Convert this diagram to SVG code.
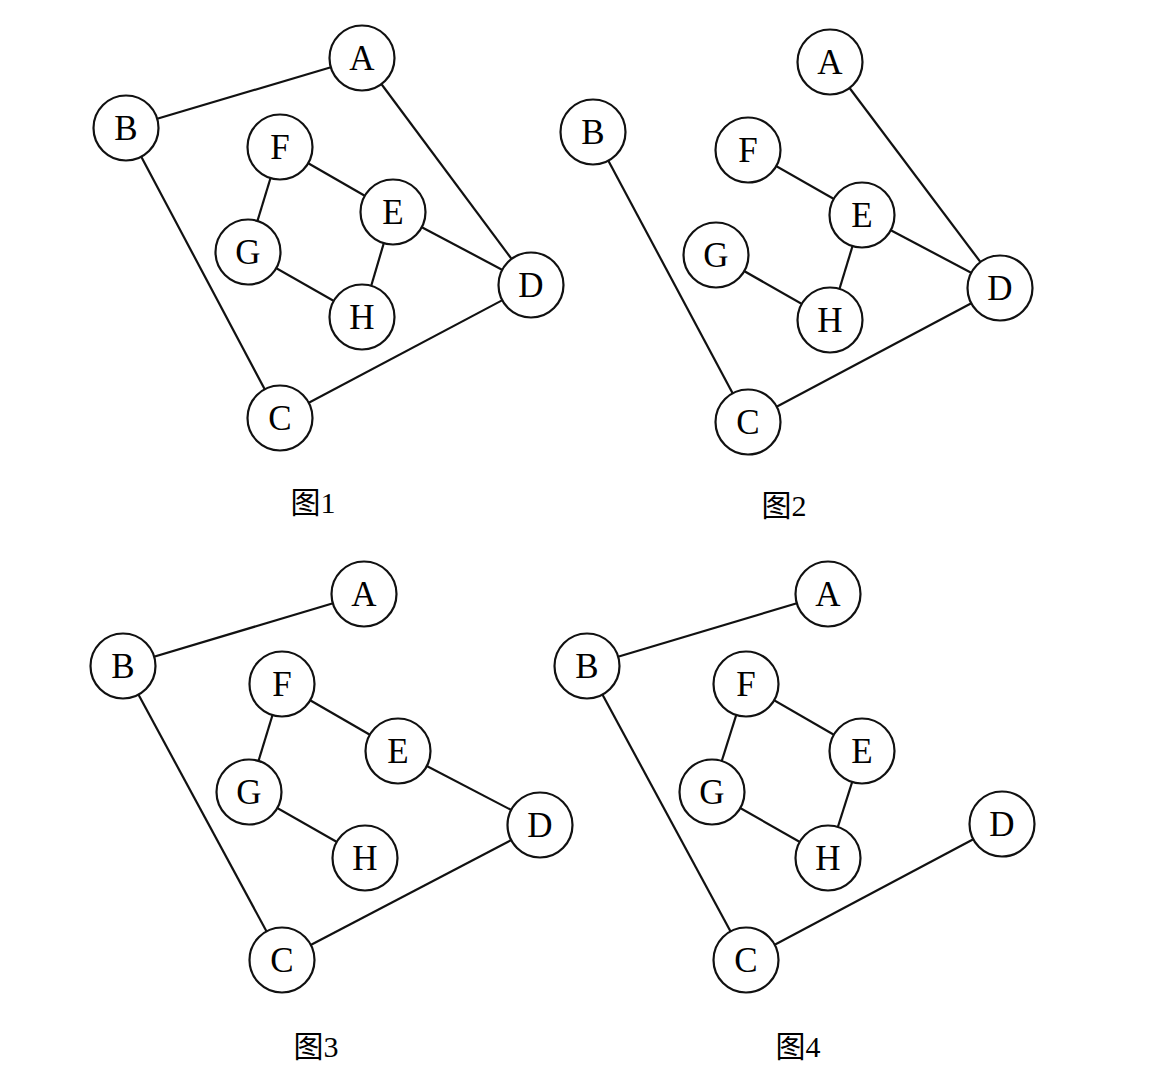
<svg xmlns="http://www.w3.org/2000/svg" width="1170" height="1072" viewBox="0 0 1170 1072">
<style>
.e{stroke:#111;stroke-width:2.2;fill:none}
.n circle{fill:#fff;stroke:#111;stroke-width:2.2}
.n text{font-family:"Liberation Serif","Times New Roman",serif;font-size:35px;fill:#000;text-anchor:middle}
.cap{font-family:"Liberation Serif","Noto Sans CJK SC",serif;font-size:30px;fill:#000;text-anchor:middle}
</style>
<rect width="1170" height="1072" fill="#fff"/>
<g id="connectors">
<!-- fig1 -->
<line class="e" x1="362" y1="58" x2="126" y2="128"/>
<line class="e" x1="362" y1="58" x2="531" y2="285"/>
<line class="e" x1="126" y1="128" x2="280" y2="418"/>
<line class="e" x1="280" y1="418" x2="531" y2="285"/>
<line class="e" x1="280" y1="147" x2="393" y2="212"/>
<line class="e" x1="280" y1="147" x2="248" y2="252"/>
<line class="e" x1="393" y1="212" x2="531" y2="285"/>
<line class="e" x1="393" y1="212" x2="362" y2="317"/>
<line class="e" x1="248" y1="252" x2="362" y2="317"/>
<!-- fig2 -->
<line class="e" x1="830" y1="62" x2="1000" y2="288"/>
<line class="e" x1="593" y1="132" x2="748" y2="422"/>
<line class="e" x1="748" y1="422" x2="1000" y2="288"/>
<line class="e" x1="748" y1="150" x2="862" y2="215"/>
<line class="e" x1="862" y1="215" x2="1000" y2="288"/>
<line class="e" x1="862" y1="215" x2="830" y2="320"/>
<line class="e" x1="716" y1="255" x2="830" y2="320"/>
<!-- fig3 -->
<line class="e" x1="364" y1="594" x2="123" y2="666"/>
<line class="e" x1="123" y1="666" x2="282" y2="960"/>
<line class="e" x1="282" y1="960" x2="540" y2="825"/>
<line class="e" x1="282" y1="684" x2="398" y2="751"/>
<line class="e" x1="282" y1="684" x2="249" y2="792"/>
<line class="e" x1="398" y1="751" x2="540" y2="825"/>
<line class="e" x1="249" y1="792" x2="365" y2="858"/>
<!-- fig4 -->
<line class="e" x1="828" y1="594" x2="587" y2="666"/>
<line class="e" x1="587" y1="666" x2="746" y2="960"/>
<line class="e" x1="746" y1="960" x2="1002" y2="824"/>
<line class="e" x1="746" y1="684" x2="862" y2="751"/>
<line class="e" x1="746" y1="684" x2="712" y2="792"/>
<line class="e" x1="862" y1="751" x2="828" y2="858"/>
<line class="e" x1="712" y1="792" x2="828" y2="858"/>
</g>
<!-- fig1 nodes -->
<g id="f1A" class="n"><circle cx="362" cy="58" r="32.5"/><text x="362" y="70">A</text></g>
<g id="f1B" class="n"><circle cx="126" cy="128" r="32.5"/><text x="126" y="140">B</text></g>
<g id="f1C" class="n"><circle cx="280" cy="418" r="32.5"/><text x="280" y="430">C</text></g>
<g id="f1D" class="n"><circle cx="531" cy="285" r="32.5"/><text x="531" y="297">D</text></g>
<g id="f1E" class="n"><circle cx="393" cy="212" r="32.5"/><text x="393" y="224">E</text></g>
<g id="f1F" class="n"><circle cx="280" cy="147" r="32.5"/><text x="280" y="159">F</text></g>
<g id="f1G" class="n"><circle cx="248" cy="252" r="32.5"/><text x="248" y="264">G</text></g>
<g id="f1H" class="n"><circle cx="362" cy="317" r="32.5"/><text x="362" y="329">H</text></g>
<text class="cap" x="313" y="513">图1</text>
<!-- fig2 nodes -->
<g id="f2A" class="n"><circle cx="830" cy="62" r="32.5"/><text x="830" y="74">A</text></g>
<g id="f2B" class="n"><circle cx="593" cy="132" r="32.5"/><text x="593" y="144">B</text></g>
<g id="f2C" class="n"><circle cx="748" cy="422" r="32.5"/><text x="748" y="434">C</text></g>
<g id="f2D" class="n"><circle cx="1000" cy="288" r="32.5"/><text x="1000" y="300">D</text></g>
<g id="f2E" class="n"><circle cx="862" cy="215" r="32.5"/><text x="862" y="227">E</text></g>
<g id="f2F" class="n"><circle cx="748" cy="150" r="32.5"/><text x="748" y="162">F</text></g>
<g id="f2G" class="n"><circle cx="716" cy="255" r="32.5"/><text x="716" y="267">G</text></g>
<g id="f2H" class="n"><circle cx="830" cy="320" r="32.5"/><text x="830" y="332">H</text></g>
<text class="cap" x="784" y="516">图2</text>
<!-- fig3 nodes -->
<g id="f3A" class="n"><circle cx="364" cy="594" r="32.5"/><text x="364" y="606">A</text></g>
<g id="f3B" class="n"><circle cx="123" cy="666" r="32.5"/><text x="123" y="678">B</text></g>
<g id="f3C" class="n"><circle cx="282" cy="960" r="32.5"/><text x="282" y="972">C</text></g>
<g id="f3D" class="n"><circle cx="540" cy="825" r="32.5"/><text x="540" y="837">D</text></g>
<g id="f3E" class="n"><circle cx="398" cy="751" r="32.5"/><text x="398" y="763">E</text></g>
<g id="f3F" class="n"><circle cx="282" cy="684" r="32.5"/><text x="282" y="696">F</text></g>
<g id="f3G" class="n"><circle cx="249" cy="792" r="32.5"/><text x="249" y="804">G</text></g>
<g id="f3H" class="n"><circle cx="365" cy="858" r="32.5"/><text x="365" y="870">H</text></g>
<text class="cap" x="316" y="1057">图3</text>
<!-- fig4 nodes -->
<g id="f4A" class="n"><circle cx="828" cy="594" r="32.5"/><text x="828" y="606">A</text></g>
<g id="f4B" class="n"><circle cx="587" cy="666" r="32.5"/><text x="587" y="678">B</text></g>
<g id="f4C" class="n"><circle cx="746" cy="960" r="32.5"/><text x="746" y="972">C</text></g>
<g id="f4D" class="n"><circle cx="1002" cy="824" r="32.5"/><text x="1002" y="836">D</text></g>
<g id="f4E" class="n"><circle cx="862" cy="751" r="32.5"/><text x="862" y="763">E</text></g>
<g id="f4F" class="n"><circle cx="746" cy="684" r="32.5"/><text x="746" y="696">F</text></g>
<g id="f4G" class="n"><circle cx="712" cy="792" r="32.5"/><text x="712" y="804">G</text></g>
<g id="f4H" class="n"><circle cx="828" cy="858" r="32.5"/><text x="828" y="870">H</text></g>
<text class="cap" x="798" y="1057">图4</text>
</svg>
